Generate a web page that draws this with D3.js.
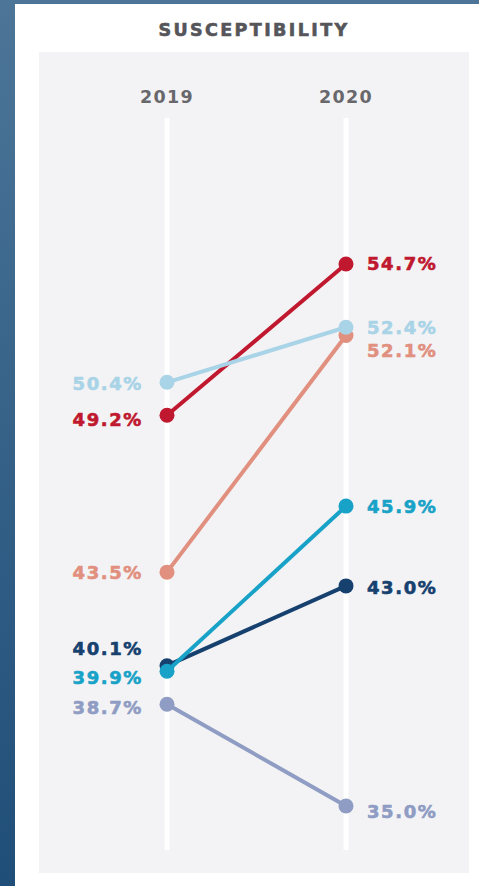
<!DOCTYPE html>
<html><head><meta charset="utf-8">
<script src="https://cdn.jsdelivr.net/npm/d3@7"></script>
<style>html,body{margin:0;padding:0;background:#fff;}svg{display:block;}</style>
</head><body>
<script>
const years = ["2019", "2020"];
const seriesNames = ["darkRed", "lightBlue", "salmon", "cyan", "navy", "grayBlue"];
const values2019 = [49.2, 50.4, 43.5, 39.9, 40.1, 38.7];
const values2020 = [54.7, 52.4, 52.1, 45.9, 43.0, 35.0];
const colors = ["#c0182f", "#a9d3e6", "#e1907f", "#19a2c7", "#16416f", "#8f9cc3"];
const leftLabelShift = [4, 1, 0, 6, -17, 3];
const rightLabelShift = [0, 0, 15, 0, 2, 6];
const title = "SUSCEPTIBILITY";

const W = 479, H = 886;
const svg = d3.select("body").append("svg").attr("width", W).attr("height", H);
const defs = svg.append("defs");
const g = defs.append("linearGradient").attr("id","bg").attr("x1",0).attr("y1",0).attr("x2",0).attr("y2",1);
g.append("stop").attr("offset","0%").attr("stop-color","#4c7598");
g.append("stop").attr("offset","100%").attr("stop-color","#1f4e78");
svg.append("rect").attr("width",W).attr("height",H).attr("fill","url(#bg)");
svg.append("rect").attr("x",15).attr("y",4).attr("width",W-15).attr("height",H-4).attr("fill","#ffffff");
svg.append("rect").attr("x",39).attr("y",52).attr("width",430).attr("height",821).attr("fill","#f3f3f5");

svg.append("text").attr("x",254).attr("y",36).attr("text-anchor","middle")
  .attr("font-family","DejaVu Sans").attr("font-weight","bold").attr("font-size",17.5)
  .attr("letter-spacing","2.4px").attr("fill","#55555a").attr("stroke","#55555a").attr("stroke-width",0.6)
  .text(title);

const x = d3.scalePoint().domain(years).range([167, 346]);
const y = d3.scaleLinear().domain([35, 54.7]).range([806, 264]);

years.forEach(yr => {
  svg.append("line").attr("x1",x(yr)).attr("x2",x(yr)).attr("y1",118).attr("y2",850)
    .attr("stroke","#ffffff").attr("stroke-width",5);
  svg.append("text").attr("x",x(yr)).attr("y",103).attr("text-anchor","middle")
    .attr("font-family","DejaVu Sans").attr("font-weight","bold").attr("font-size",17.5)
    .attr("letter-spacing","1.3px").attr("fill","#68686c").text(yr);
});

const data = seriesNames.map((n,i)=>({name:n, a:values2019[i], b:values2020[i], c:colors[i], ls:leftLabelShift[i], rs:rightLabelShift[i]}));
const order = [5,2,0,1,4,3];
order.forEach(i => {
  const d = data[i];
  svg.append("line").attr("x1",x("2019")).attr("y1",y(d.a)).attr("x2",x("2020")).attr("y2",y(d.b))
    .attr("stroke",d.c).attr("stroke-width",4).attr("stroke-linecap","round");
  svg.append("circle").attr("cx",x("2019")).attr("cy",y(d.a)).attr("r",7.5).attr("fill",d.c);
  svg.append("circle").attr("cx",x("2020")).attr("cy",y(d.b)).attr("r",7.5).attr("fill",d.c);
});
data.forEach(d => {
  svg.append("text").attr("x",143).attr("y",y(d.a)+d.ls).attr("dy","0.36em").attr("text-anchor","end")
    .attr("font-family","DejaVu Sans").attr("font-weight","bold").attr("font-size",18)
    .attr("letter-spacing","1.6px").attr("fill",d.c).attr("stroke",d.c).attr("stroke-width",0.6)
    .text(d.a.toFixed(1)+"%");
  svg.append("text").attr("x",367).attr("y",y(d.b)+d.rs).attr("dy","0.36em").attr("text-anchor","start")
    .attr("font-family","DejaVu Sans").attr("font-weight","bold").attr("font-size",18)
    .attr("letter-spacing","1.6px").attr("fill",d.c).attr("stroke",d.c).attr("stroke-width",0.6)
    .text(d.b.toFixed(1)+"%");
});
</script>
</body></html>
